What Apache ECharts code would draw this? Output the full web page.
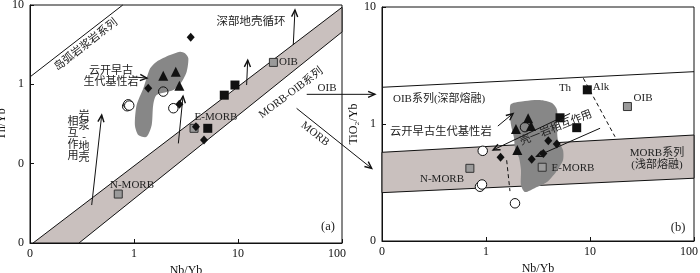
<!DOCTYPE html>
<html><head><meta charset="utf-8">
<script src="https://cdn.jsdelivr.net/npm/echarts@6/dist/echarts.min.js"></script>
<style>html,body{margin:0;padding:0;background:#fff}#c{width:700px;height:273px}</style>
</head><body><div id="c"></div>
<script>
// ---------- tick labels ----------
const xTickLabels = ['0', '1', '10', '100'];     // 0.1, 1, 10, 100
const yTickLabelsA = ['0', '0', '1', '10'];      // 0.01, 0.1, 1, 10
const yTickLabelsB = ['0', '1', '10'];           // 0.1, 1, 10

// ---------- panel (a): Th/Yb vs Nb/Yb ----------
const aTriangles = [[1.91, 1.28], [2.52, 1.44], [2.73, 0.96]];
const aDiamonds = [[3.51, 3.92], [1.37, 0.89], [2.73, 0.56], [3.94, 0.292], [4.71, 0.199]];
const aSquares = [[9.35, 0.98], [7.38, 0.73], [5.12, 0.279]];
const aCirclesIn = [[1.91, 0.81]];
const aCircles = [[0.86, 0.53], [0.88, 0.56], [0.90, 0.54], [2.39, 0.50]];
const aRefNames = ['OIB', 'E-MORB', 'N-MORB'];
const aRef = [[21.9, 1.89], [3.78, 0.279], [0.706, 0.0414]];
const aBand = [[0.107, 0.01], [100, 9.35], [100, 4.57], [0.296, 0.01]];
const aArcLine = [[0.1, 1.24, 0.78, 10]];
const aField = [[3.09, 2.46], [3.33, 2.13], [3.21, 1.44], [2.88, 1.08], [2.39, 0.848], [1.65, 0.733],
  [1.53, 0.548], [1.48, 0.307], [1.32, 0.218], [1.10, 0.230], [1.02, 0.307], [1.06, 0.548],
  [1.23, 0.891], [1.32, 1.19], [1.43, 1.59], [1.65, 1.93], [2.22, 2.34], [2.77, 2.58]];
const aArrows = [[34.0, 3.13, 35.3, 8.65], [12.1, 0.98, 12.4, 2.02], [0.392, 0.0301, 0.489, 0.41],
  [2.67, 0.180, 2.96, 0.71], [0.978, 1.24, 1.33, 1.20], [45.8, 0.748, 207.5, 0.748], [36.6, 0.498, 193, 0.0873]];

// ---------- panel (b): TiO2/Yb vs Nb/Yb ----------
const bTriangles = [[1.94, 0.905], [2.54, 1.12], [2.71, 0.96], [2.00, 0.60]];
const bDiamonds = [[3.97, 0.72], [4.79, 0.675], [3.56, 0.56], [2.75, 0.50], [1.38, 0.52]];
const bSquares = [[9.42, 1.96], [5.15, 1.13], [7.45, 0.93]];
const bCirclesIn = [[2.37, 0.94]];
const bCircles = [[0.93, 0.59], [0.875, 0.291], [0.915, 0.304], [1.90, 0.21]];
const bRefNames = ['OIB', 'N-MORB', 'E-MORB'];
const bRef = [[22.9, 1.41], [0.70, 0.418], [3.47, 0.427]];
const bOIBLine = [[0.1, 2.06, 100, 2.80]];
const bBand = [[0.1, 0.573], [100, 0.805], [100, 0.344], [0.1, 0.259]];
const bField = [[1.74, 1.48], [2.37, 1.57], [3.30, 1.60], [4.31, 1.51], [4.82, 1.32], [4.82, 0.98],
  [4.92, 0.73], [5.50, 0.60], [5.50, 0.49], [4.71, 0.389], [3.86, 0.319], [2.96, 0.284],
  [2.37, 0.262], [2.17, 0.301], [2.17, 0.405], [2.08, 0.512], [1.90, 0.624], [1.86, 0.759],
  [1.74, 0.98], [1.70, 1.27]];
const bDashed = [[8.63, 2.46, 17.4, 0.778], [1.58, 0.49, 1.70, 0.267]];
const bArrows = [[6.43, 1.23, 1.17, 0.60], [12.5, 0.92, 3.07, 0.53], [1.30, 0.96, 1.82, 1.23]];

// ---------- styles ----------
const SERIF = "'Liberation Serif','Noto Sans CJK SC',serif";
const BAND = '#c9c0be';
const FIELD = '#878787';
const INK = '#111';

function logIdx(v, minExp) { return Math.round(Math.log10(v)) - minExp; }

function polygonSeries(pts, gi, fill, z) {
  return {
    type: 'custom', xAxisIndex: gi, yAxisIndex: gi, z: z, silent: true,
    data: pts,
    renderItem: function (params, api) {
      if (params.dataIndex !== 0) return null;
      return { type: 'polygon', shape: { points: pts.map(p => api.coord(p)), smooth: 0.25 },
        style: { fill: fill, stroke: null } };
    }
  };
}
function polygonBand(pts, gi, fill, z) {
  return {
    type: 'custom', xAxisIndex: gi, yAxisIndex: gi, z: z, silent: true,
    data: pts,
    renderItem: function (params, api) {
      if (params.dataIndex !== 0) return null;
      return { type: 'polygon', shape: { points: pts.map(p => api.coord(p)) },
        style: { fill: fill, stroke: INK, lineWidth: 1 } };
    }
  };
}
function segSeries(segs, gi, head, dashed, z) {
  return {
    type: 'custom', xAxisIndex: gi, yAxisIndex: gi, z: z, silent: true, clip: false,
    encode: { x: [0, 2], y: [1, 3] },
    data: segs,
    renderItem: function (params, api) {
      const s = api.coord([api.value(0), api.value(1)]);
      const e = api.coord([api.value(2), api.value(3)]);
      const ls = { stroke: INK, lineWidth: 1 };
      if (dashed) ls.lineDash = [4, 3];
      const ch = [{ type: 'line', shape: { x1: s[0], y1: s[1], x2: e[0], y2: e[1] }, style: ls }];
      if (head) {
        const a = Math.atan2(e[1] - s[1], e[0] - s[0]), L = 7.5, t = 0.42;
        ch.push({ type: 'polyline', shape: { points: [
          [e[0] - L * Math.cos(a - t), e[1] - L * Math.sin(a - t)], [e[0], e[1]],
          [e[0] - L * Math.cos(a + t), e[1] - L * Math.sin(a + t)]] },
          style: { stroke: INK, lineWidth: 1.4, fill: null } });
      }
      return { type: 'group', children: ch };
    }
  };
}
function scat(data, gi, symbol, size, style, z) {
  return { type: 'scatter', xAxisIndex: gi, yAxisIndex: gi, data: data, symbol: symbol,
    symbolSize: size, itemStyle: Object.assign({ opacity: 1 }, style), z: z || 10, silent: true };
}

function xAxis(gi) {
  return {
    type: 'log', logBase: 10, min: 0.1, max: 100, gridIndex: gi,
    name: 'Nb/Yb', nameLocation: 'middle', nameGap: 16,
    nameTextStyle: { fontFamily: SERIF, fontSize: 12, color: INK },
    axisLine: { onZero: false, lineStyle: { color: INK } },
    axisTick: { inside: true, length: 4, lineStyle: { color: INK } },
    minorTick: { show: false }, splitLine: { show: false },
    axisLabel: { fontFamily: SERIF, fontSize: 12, color: INK, margin: 5,
      rich: { r: { fontFamily: SERIF, fontSize: 12, color: INK, padding: [0, 10, 0, 0] } },
      formatter: v => { const i = logIdx(v, -1); const s = xTickLabels[i];
        return i === xTickLabels.length - 1 ? '{r|' + s + '}' : s; } }
  };
}
function yAxis(gi, min, labels, name, gap) {
  const minExp = Math.round(Math.log10(min));
  return {
    type: 'log', logBase: 10, min: min, max: 10, gridIndex: gi,
    name: name, nameLocation: 'middle', nameGap: gap,
    nameTextStyle: { fontFamily: SERIF, fontSize: 12, color: INK },
    axisLine: { onZero: false, lineStyle: { color: INK } },
    axisTick: { inside: true, length: 4, lineStyle: { color: INK } },
    minorTick: { show: false }, splitLine: { show: false },
    axisLabel: { fontFamily: SERIF, fontSize: 12, color: INK, margin: 6,
      formatter: v => labels[logIdx(v, minExp)] }
  };
}

function txt(t, x, y, opt) {
  opt = opt || {};
  return { type: 'text', x: x, y: y, rotation: (opt.rot || 0) * Math.PI / 180, z: 100, silent: true,
    style: { text: t, fontFamily: SERIF, fontSize: opt.size || 11, fill: opt.color || '#222',
      align: opt.align || 'center', verticalAlign: 'middle', lineHeight: opt.lh || 12 } };
}

const black = { color: INK };
const open = { color: '#fff', borderColor: INK, borderWidth: 1 };
const openT = { color: 'transparent', borderColor: INK, borderWidth: 1 };
const grey = { color: '#9a9a9a', borderColor: '#333', borderWidth: 1 };

const series = [];
[0, 1].forEach(gi => {
  const P = gi === 0
    ? { band: aBand, field: aField, tri: aTriangles, dia: aDiamonds, sq: aSquares, cin: aCirclesIn, c: aCircles, ref: aRef }
    : { band: bBand, field: bField, tri: bTriangles, dia: bDiamonds, sq: bSquares, cin: bCirclesIn, c: bCircles, ref: bRef };
  series.push(polygonBand(P.band, gi, BAND, 1));
  series.push(polygonSeries(P.field, gi, FIELD, 2));
  series.push(scat(P.c, gi, 'circle', 9.5, open, 9));
  series.push(scat(P.cin, gi, 'circle', 9.5, openT, 9));
  series.push(scat(P.ref, gi, 'rect', 8, grey, 10));
  series.push(scat(P.sq, gi, 'rect', 9, black, 11));
  series.push(scat(P.tri, gi, 'triangle', 10, black, 12));
  series.push(scat(P.dia, gi, 'diamond', [8, 9], black, 13));
});
series.push(segSeries(aArcLine, 0, false, false, 3));
series.push(segSeries(aArrows, 0, true, false, 4));
series.push(segSeries(bOIBLine, 1, false, false, 3));
series.push(segSeries(bDashed, 1, false, true, 4));
series.push(segSeries(bArrows, 1, true, false, 4));

const graphic = [
  // panel a
  txt('岛弧岩浆岩系列', 86, 45, { rot: 38 }),
  txt('云开早古\n生代基性岩', 111, 77, { lh: 11 }),
  txt('岩\n浆\n-\n地\n壳', 84, 137, { lh: 10.5 }),
  txt('相\n互\n作\n用', 73, 139, { lh: 11.5 }),
  txt('深部地壳循环', 251, 22, { size: 11.5 }),
  txt(aRefNames[0], 279, 62, { align: 'left' }),
  txt(aRefNames[1], 216, 117),
  txt(aRefNames[2], 132, 185),
  txt('MORB-OIB系列', 291, 93, { rot: 37 }),
  txt('(a)', 328, 227, { size: 12.5 }),
  txt('OIB', 327, 88),
  txt('MORB', 315, 134, { rot: -38 }),
  // panel b
  txt('OIB系列(深部熔融)', 393, 99, { align: 'left' }),
  txt('云开早古生代基性岩', 390, 132, { align: 'left', size: 11.3 }),
  txt('Th', 565, 88), txt('Alk', 601, 87),
  txt(bRefNames[0], 643, 98),
  txt('壳一岩相互作用', 556, 128, { rot: 22 }),
  txt(bRefNames[1], 442, 179),
  txt(bRefNames[2], 573, 168),
  txt('MORB系列', 657, 153),
  txt('(浅部熔融)', 657, 165),
  txt('(b)', 678, 228, { size: 12.5 })
];

const chart = echarts.init(document.getElementById('c'), null, { renderer: 'canvas' });
chart.setOption({
  animation: false,
  backgroundColor: '#fff',
  grid: [
    { left: 30, top: 5, width: 312, height: 238, show: true, borderColor: INK, borderWidth: 1, containLabel: false, outerBoundsMode: 'none' },
    { left: 382, top: 7, width: 312, height: 234, show: true, borderColor: INK, borderWidth: 1, containLabel: false, outerBoundsMode: 'none' }
  ],
  xAxis: [xAxis(0), xAxis(1)],
  yAxis: [yAxis(0, 0.01, yTickLabelsA, 'Th/Yb', 18), yAxis(1, 0.1, yTickLabelsB, 'TiO₂/Yb', 20)],
  series: series,
  graphic: graphic
});
</script></body></html>
